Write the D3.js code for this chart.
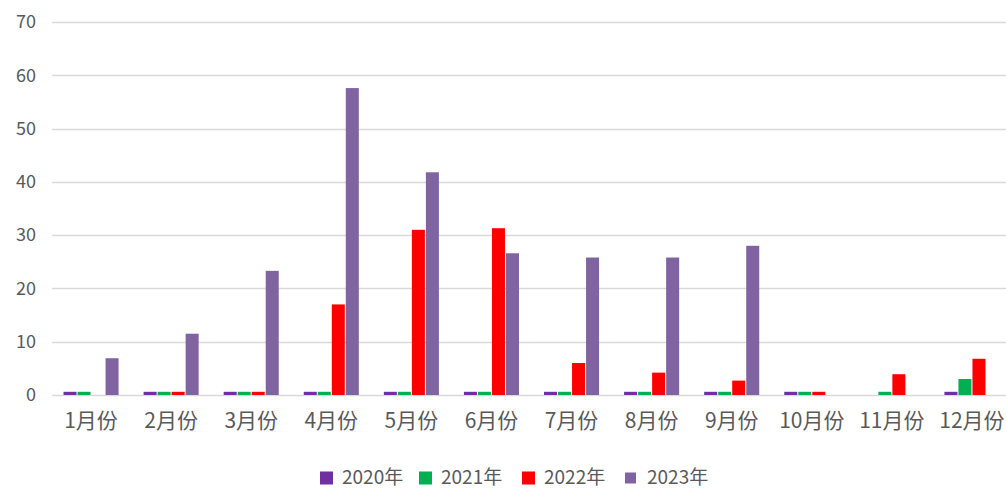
<!DOCTYPE html>
<html>
<head>
<meta charset="utf-8">
<script src="https://cdn.jsdelivr.net/npm/d3@7"></script>
<style>
  html, body { margin: 0; padding: 0; background: #fff; }
  svg { display: block; }
  text { font-family: "Noto Sans CJK SC", "Noto Sans", sans-serif; fill: #595959; }
</style>
</head>
<body>
<svg id="chart" width="1006" height="490"></svg>
<script>
// Monthly counts per year
const months = ["1月份", "2月份", "3月份", "4月份", "5月份", "6月份", "7月份", "8月份", "9月份", "10月份", "11月份", "12月份"];
const seriesNames = ["2020年", "2021年", "2022年", "2023年"];
const values2020 = [0.6, 0.6, 0.6, 0.6, 0.6, 0.6, 0.6, 0.6, 0.6, 0.6, 0, 0.6];
const values2021 = [0.6, 0.6, 0.6, 0.6, 0.6, 0.6, 0.6, 0.6, 0.6, 0.6, 0.6, 3];
const values2022 = [0, 0.6, 0.6, 17, 31, 31.3, 6, 4.2, 2.7, 0.6, 3.9, 6.8];
const values2023 = [6.9, 11.5, 23.3, 57.6, 41.8, 26.6, 25.8, 25.8, 28, 0, 0, 0];
const yTicks = [0, 10, 20, 30, 40, 50, 60, 70];
const seriesColors = ["#7030A0", "#00B050", "#FF0000", "#8064A2"];

const allSeries = [values2020, values2021, values2022, values2023];
const svg = d3.select("#chart");

const plotLeft = 51, plotRight = 1012, plotTop = 22, plotBottom = 395;

const x0 = d3.scaleBand().domain(months).range([plotLeft, plotRight])
  .paddingInner(0.3).paddingOuter(0.15);
const x1 = d3.scaleBand().domain(seriesNames).range([0, x0.bandwidth()]).padding(0.0);
const y = d3.scaleLinear().domain([0, 70]).range([plotBottom, plotTop]);

// horizontal gridlines
svg.append("g").selectAll("line").data(yTicks).join("line")
  .attr("x1", 52).attr("x2", 1006)
  .attr("y1", d => Math.round(y(d)) + 0.5).attr("y2", d => Math.round(y(d)) + 0.5)
  .attr("stroke", "#d9d9d9").attr("stroke-width", 1.3);

// y-axis labels
const yAxis = d3.axisLeft(y).tickValues(yTicks).tickSize(0).tickPadding(0);
const gy = svg.append("g").attr("transform", "translate(36,0)").call(yAxis);
gy.select(".domain").remove();
gy.selectAll("text").attr("font-size", 18).attr("fill", "#595959")
  .style("font-family", '"Noto Sans CJK SC", sans-serif');

// bars
const rows = months.map((m, i) => ({ month: m, vals: seriesNames.map((s, k) => ({ key: s, k, v: allSeries[k][i] })) }));
const groups = svg.append("g").selectAll("g").data(rows).join("g")
  .attr("transform", d => `translate(${x0(d.month)},0)`);
groups.selectAll("rect").data(d => d.vals.filter(e => e.v > 0)).join("rect")
  .attr("x", e => x1(e.key) + 0.5)
  .attr("width", x1.bandwidth() - 1)
  .attr("y", e => y(e.v))
  .attr("height", e => y(0) - y(e.v))
  .attr("fill", e => seriesColors[e.k]);

// x-axis labels
const xAxis = d3.axisBottom(x0).tickSize(0).tickPadding(0);
const gx = svg.append("g").attr("transform", `translate(0,${plotBottom + 18})`).call(xAxis);
gx.select(".domain").remove();
gx.selectAll("text").attr("font-size", 21).attr("fill", "#595959")
  .style("font-family", '"Noto Sans CJK SC", sans-serif');

// legend
const legendItems = [
  { name: seriesNames[0], color: seriesColors[0], sq: 13, x: 320 },
  { name: seriesNames[1], color: seriesColors[1], sq: 13, x: 419 },
  { name: seriesNames[2], color: seriesColors[2], sq: 13, x: 522 },
  { name: seriesNames[3], color: seriesColors[3], sq: 11, x: 625 }
];
const lg = svg.append("g");
const legendY = 477;
const li = lg.selectAll("g").data(legendItems).join("g");
li.append("rect")
  .attr("x", d => d.x).attr("y", d => legendY + 1 - d.sq / 2)
  .attr("width", d => d.sq).attr("height", d => d.sq)
  .attr("fill", d => d.color);
li.append("text")
  .attr("x", d => d.x + 22).attr("y", legendY)
  .attr("dy", "0.36em").attr("font-size", 19)
  .text(d => d.name);
</script>
</body>
</html>
